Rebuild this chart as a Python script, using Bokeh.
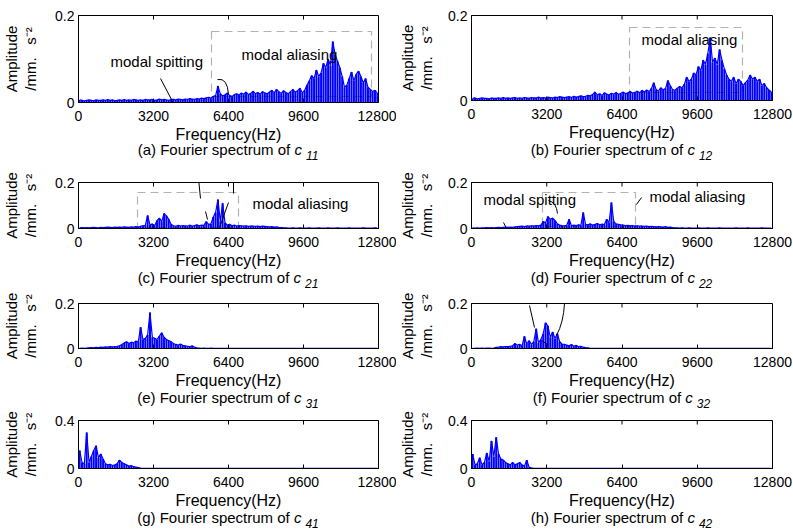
import numpy as np
from bokeh.plotting import figure
from bokeh.models import Range1d, FixedTicker, Label, BoxAnnotation, Arrow, Div
from bokeh.layouts import column, row
from bokeh.embed import file_html
from bokeh.resources import INLINE

# ---------------- data (100 Hz bins) ----------------
FREQ_MAX = 12800
BIN_HZ = 100
X_TICKS = [0, 3200, 6400, 9600, 12800]
X_TITLE = "Frequency(Hz)"
NBSP = "\u00a0"
Y_TITLE = "Amplitude\n/mm." + NBSP * 3 + "s\u207b\u00b2"
CAPTION = "Fourier spectrum of"
TEXT_SPLIT = "modal spitting"
TEXT_ALIAS = "modal aliasing"

amp_c11 = [.006, .005, .004, .005, .006, .005, .004, .006, .005, .005,
           .006, .005, .007, .005, .006, .004, .005, .006, .005, .007,
           .005, .006, .005, .007, .006, .005, .006, .005, .007, .006,
           .006, .007, .005, .006, .008, .006, .007, .006, .005, .007,
           .007, .006, .008, .007, .006, .008, .007, .009, .008, .007,
           .009, .008, .010, .009, .011, .012, .010, .014, .016, .038,
           .020, .015, .018, .022, .016, .014, .018, .020, .017, .022,
           .019, .024, .018, .021, .026, .020, .023, .019, .025, .022,
           .020, .024, .028, .022, .030, .025, .021, .027, .023, .020,
           .025, .030, .024, .027, .033, .022, .028, .040, .050, .062,
           .055, .075, .060, .068, .090, .080, .100, .085, .140, .110,
           .095, .080, .060, .035, .040, .055, .070, .050, .065, .072,
           .060, .045, .055, .035, .030, .025, .028, .022]
amp_c12 = [.005, .006, .004, .005, .006, .005, .005, .004, .006, .005,
           .005, .006, .005, .007, .005, .006, .005, .006, .007, .005,
           .006, .005, .007, .006, .005, .007, .006, .006, .008, .006,
           .007, .006, .008, .007, .006, .008, .007, .009, .008, .007,
           .008, .009, .007, .010, .008, .009, .011, .009, .010, .012,
           .011, .014, .020, .013, .016, .012, .018, .015, .013, .017,
           .015, .019, .014, .017, .020, .016, .018, .021, .017, .019,
           .022, .018, .024, .020, .025, .021, .028, .042, .026, .022,
           .030, .025, .028, .047, .035, .026, .024, .029, .033, .030,
           .038, .055, .045, .050, .065, .060, .080, .070, .095, .085,
           .110, .148, .090, .100, .085, .120, .095, .075, .060, .050,
           .045, .055, .040, .050, .045, .035, .042, .048, .060, .050,
           .055, .045, .050, .035, .040, .030, .025, .020]
amp_c21 = [.003, .004, .003, .004, .003, .004, .005, .004, .003, .005,
           .004, .005, .006, .005, .004, .006, .005, .006, .005, .007,
           .006, .005, .007, .006, .008, .006, .010, .012, .014, .057,
           .015, .020, .012, .035, .045, .030, .065, .055, .040, .018,
           .012, .010, .014, .011, .013, .012, .010, .015, .011, .013,
           .016, .012, .015, .014, .030, .018, .020, .050, .070, .126,
           .030, .110, .025, .014, .018, .012, .015, .011, .013, .012,
           .010, .012, .009, .011, .010, .009, .011, .008, .010, .009,
           .008, .007, .008, .006, .007, .005, .004, .003, .003, .002,
           .002, .003, .002, .002, .003, .002, .002, .002, .003, .002,
           .002, .002, .003, .002, .002, .002, .003, .002, .002, .002,
           .003, .002, .002, .002, .002, .003, .002, .002, .002, .002,
           .002, .003, .002, .002, .002, .002, .003, .002]
amp_c22 = [.003, .002, .003, .002, .003, .003, .004, .003, .004, .003,
           .004, .005, .004, .005, .006, .005, .006, .005, .007, .008,
           .009, .010, .008, .011, .010, .012, .011, .013, .012, .015,
           .030, .025, .052, .040, .045, .035, .020, .015, .013, .012,
           .014, .040, .012, .015, .013, .016, .014, .070, .018, .016,
           .020, .015, .018, .022, .016, .019, .017, .040, .025, .113,
           .030, .020, .018, .016, .015, .013, .014, .012, .013, .011,
           .012, .010, .011, .009, .010, .008, .009, .008, .007, .008,
           .007, .006, .008, .005, .006, .004, .003, .003, .002, .003,
           .002, .002, .003, .002, .002, .002, .003, .002, .002, .002,
           .003, .002, .002, .002, .002, .003, .002, .002, .002, .002,
           .002, .002, .003, .002, .002, .002, .002, .003, .002, .002,
           .002, .002, .002, .003, .002, .002, .002, .002]
amp_c31 = [.001, .002, .001, .002, .003, .004, .003, .005, .004, .006,
           .005, .007, .006, .008, .007, .009, .010, .012, .018, .025,
           .030, .022, .028, .025, .033, .030, .095, .040, .045, .060,
           .160, .050, .045, .040, .055, .070, .050, .040, .035, .030,
           .022, .018, .015, .020, .014, .012, .010, .008, .012, .006,
           .003, .002, .001, .002, .001, .001, .002, .001, .001, .001,
           .001, .001, .001, .001, .001, .001, .001, .001, .001, .001,
           .001, .001, .001, .001, .001, .001, .001, .001, .001, .001,
           .001, .001, .001, .001, .001, .001, .001, .001, .001, .001,
           .001, .001, .001, .001, .001, .001, .001, .001, .001, .001,
           .001, .001, .001, .001, .001, .001, .001, .001, .001, .001,
           .001, .001, .001, .001, .001, .001, .001, .001, .001, .001,
           .001, .001, .001, .001, .001, .001, .001, .001]
amp_c32 = [.001, .001, .002, .001, .002, .001, .002, .002, .001, .002,
           .005, .006, .008, .007, .009, .008, .010, .012, .022, .015,
           .018, .012, .054, .020, .035, .018, .030, .088, .025, .040,
           .066, .114, .100, .050, .073, .045, .066, .030, .020, .018,
           .015, .012, .018, .010, .014, .008, .010, .006, .004, .003,
           .001, .001, .001, .001, .001, .001, .001, .001, .001, .001,
           .001, .001, .001, .001, .001, .001, .001, .001, .001, .001,
           .001, .001, .001, .001, .001, .001, .001, .001, .001, .001,
           .001, .001, .001, .001, .001, .001, .001, .001, .001, .001,
           .001, .001, .001, .001, .001, .001, .001, .001, .001, .001,
           .001, .001, .001, .001, .001, .001, .001, .001, .001, .001,
           .001, .001, .001, .001, .001, .001, .001, .001, .001, .001,
           .001, .001, .001, .001, .001, .001, .001, .001]
amp_c41 = [.150, .050, .040, .300, .050, .100, .150, .190, .090, .120,
           .080, .040, .030, .035, .025, .030, .040, .070, .050, .040,
           .030, .020, .025, .015, .012, .008, .004, .002, .001, .001,
           .001, .001, .001, .001, .001, .001, .001, .001, .001, .001,
           .001, .001, .001, .001, .001, .001, .001, .001, .001, .001,
           .001, .001, .001, .001, .001, .001, .001, .001, .001, .001,
           .001, .001, .001, .001, .001, .001, .001, .001, .001, .001,
           .001, .001, .001, .001, .001, .001, .001, .001, .001, .001,
           .001, .001, .001, .001, .001, .001, .001, .001, .001, .001,
           .001, .001, .001, .001, .001, .001, .001, .001, .001, .001,
           .001, .001, .001, .001, .001, .001, .001, .001, .001, .001,
           .001, .001, .001, .001, .001, .001, .001, .001, .001, .001,
           .001, .001, .001, .001, .001, .001, .001, .001]
amp_c42 = [.120, .030, .040, .090, .030, .050, .130, .060, .230, .100,
           .260, .120, .080, .070, .050, .040, .030, .050, .030, .040,
           .050, .030, .020, .070, .010, .005, .002, .001, .001, .001,
           .001, .001, .001, .001, .001, .001, .001, .001, .001, .001,
           .001, .001, .001, .001, .001, .001, .001, .001, .001, .001,
           .001, .001, .001, .001, .001, .001, .001, .001, .001, .001,
           .001, .001, .001, .001, .001, .001, .001, .001, .001, .001,
           .001, .001, .001, .001, .001, .001, .001, .001, .001, .001,
           .001, .001, .001, .001, .001, .001, .001, .001, .001, .001,
           .001, .001, .001, .001, .001, .001, .001, .001, .001, .001,
           .001, .001, .001, .001, .001, .001, .001, .001, .001, .001,
           .001, .001, .001, .001, .001, .001, .001, .001, .001, .001,
           .001, .001, .001, .001, .001, .001, .001, .001]

freq = np.arange(len(amp_c11)) * BIN_HZ + BIN_HZ / 2

# ---------------- styling / layout ----------------
BLUE = "#0000ff"
FONT = "Liberation Sans"
COLS = [dict(bl=78, fw=300, br=18, ystand=13), dict(bl=75, fw=301, br=20, ystand=10)]
BB = 43  # bottom border of every figure (tick labels + x title)

PANELS = [
    dict(tag="a", sub="11", amp=amp_c11, ymax=0.2, col=0, bt=13, fh=87, cap_h=25, ref=(78, 13, 378, 100)),
    dict(tag="b", sub="12", amp=amp_c12, ymax=0.2, col=1, bt=15, fh=85, cap_h=25, ref=(471, 15, 772, 100)),
    dict(tag="c", sub="21", amp=amp_c21, ymax=0.2, col=0, bt=14, fh=46, cap_h=19, ref=(78, 182, 378, 228)),
    dict(tag="d", sub="22", amp=amp_c22, ymax=0.2, col=1, bt=14, fh=46, cap_h=19, ref=(471, 182, 772, 228)),
    dict(tag="e", sub="31", amp=amp_c31, ymax=0.2, col=0, bt=13, fh=45, cap_h=19, ref=(78, 303, 378, 348)),
    dict(tag="f", sub="32", amp=amp_c32, ymax=0.2, col=1, bt=13, fh=45, cap_h=19, ref=(471, 303, 772, 348)),
    dict(tag="g", sub="41", amp=amp_c41, ymax=0.4, col=0, bt=10, fh=48, cap_h=19, ref=(78, 420, 378, 468)),
    dict(tag="h", sub="42", amp=amp_c42, ymax=0.4, col=1, bt=10, fh=48, cap_h=19, ref=(471, 420, 772, 468)),
]

# annotation positions, given in reference-picture pixels
BOXES = {"a": (211, 29, 371, 94), "b": (629, 27, 742, 92),
         "c": (137, 192, 238, 227), "d": (542, 192, 635, 226)}
TEXTS = {"a": [(TEXT_SPLIT, 110, 59), (TEXT_ALIAS, 241, 52)],
         "b": [(TEXT_ALIAS, 641, 39)],
         "c": [(TEXT_ALIAS, 252, 203)],
         "d": [(TEXT_SPLIT, 483, 199), (TEXT_ALIAS, 649, 196)]}
LINES = {"a": [(160, 76, 195, 143)],
         "c": [(197, 168, 200, 198), (205, 211, 207, 219), (233, 182, 233, 193), (228, 202, 219, 227)],
         "d": [(503, 222, 527, 270), (636, 204, 641, 197)],
         "f": [(529, 305, 534, 327), (541, 340, 547, 344)]}
CURVES = {"a": [(217, 77, 227, 75, 228, 92)],
          "d": [(548, 200, 556, 202, 557, 213)],
          "f": [(564, 303, 563, 322, 556, 335)]}


def build(pn):
    L, T, R, B = pn["ref"]
    ymax = pn["ymax"]

    def X(px):
        return (px - L) / (R - L) * FREQ_MAX

    def Y(py):
        return (B - py) / (B - T) * ymax

    c = COLS[pn["col"]]
    p = figure(frame_width=c["fw"], frame_height=pn["fh"],
               x_range=Range1d(0, FREQ_MAX), y_range=Range1d(0, ymax),
               output_backend="svg", toolbar_location=None,
               min_border_left=c["bl"], min_border_right=c["br"],
               min_border_top=pn["bt"], min_border_bottom=BB)
    p.background_fill_color = "white"
    p.border_fill_color = "white"
    p.outline_line_color = "black"
    p.outline_line_width = 1
    p.xgrid.visible = False
    p.ygrid.visible = False

    # spectrum
    p.vbar(x=freq, top=pn["amp"], bottom=0, width=BIN_HZ * 0.85,
           fill_color=BLUE, line_color=None)
    p.line(freq, pn["amp"], line_color=BLUE, line_width=1.2)

    # inner ticks on the top edge (MATLAB box)
    tick_len = ymax * 4 / pn["fh"]
    p.segment(x0=X_TICKS, x1=X_TICKS, y0=[ymax] * len(X_TICKS),
              y1=[ymax - tick_len] * len(X_TICKS), line_color="black", line_width=1)

    # axes
    xa = p.xaxis[0]
    xa.ticker = FixedTicker(ticks=X_TICKS)
    xa.major_tick_in = 4
    xa.major_tick_out = 0
    xa.minor_tick_line_color = None
    xa.axis_line_color = "black"
    xa.major_label_text_font = FONT
    xa.major_label_text_font_size = "14px"
    xa.major_label_text_color = "black"
    xa.major_label_standoff = 8
    xa.axis_label = X_TITLE
    xa.axis_label_text_font = FONT
    xa.axis_label_text_font_size = "16px"
    xa.axis_label_text_font_style = "normal"
    xa.axis_label_text_color = "black"
    xa.axis_label_standoff = 2

    ya = p.yaxis[0]
    ya.ticker = FixedTicker(ticks=[0, ymax])
    ya.major_label_overrides = {0: "0", ymax: str(ymax)}
    ya.major_tick_in = 4
    ya.major_tick_out = 0
    ya.minor_tick_line_color = None
    ya.axis_line_color = "black"
    ya.major_label_text_font = FONT
    ya.major_label_text_font_size = "14px"
    ya.major_label_text_color = "black"
    ya.major_label_standoff = 4
    ya.axis_label = Y_TITLE
    ya.axis_label_text_font = FONT
    ya.axis_label_text_font_size = "15px"
    ya.axis_label_text_font_style = "normal"
    ya.axis_label_text_color = "black"
    ya.axis_label_text_line_height = 1.1
    ya.axis_label_standoff = c["ystand"]

    tag = pn["tag"]
    if tag in BOXES:
        l, t, r, b = BOXES[tag]
        p.add_layout(BoxAnnotation(left=X(l), right=X(r), top=Y(t), bottom=Y(b),
                                   fill_alpha=0, fill_color=None, line_color="black",
                                   line_dash="8 5", line_width=1.2))
    for txt, tx, ty in TEXTS.get(tag, []):
        p.add_layout(Label(x=X(tx), y=Y(ty), text=txt, text_align="left", text_baseline="middle",
                           text_font=FONT, text_font_size="15px", text_color="black"))
    for x0, y0, x1, y1 in LINES.get(tag, []):
        p.add_layout(Arrow(end=None, x_start=X(x0), y_start=Y(y0), x_end=X(x1), y_end=Y(y1),
                           line_color="black", line_width=1))
    for x0, y0, cx, cyy, x1, y1 in CURVES.get(tag, []):
        p.quadratic(x0=[X(x0)], y0=[Y(y0)], cx=[X(cx)], cy=[Y(cyy)], x1=[X(x1)], y1=[Y(y1)],
                    line_color="black", line_width=1)
    return p


def caption(pn):
    c = COLS[pn["col"]]
    html = (f'<div style="margin-left:{c["bl"]}px;width:{c["fw"]}px;text-align:center;'
            f'font-family:\'{FONT}\';font-size:15px;line-height:14px;color:black;white-space:nowrap;">'
            f'({pn["tag"]}) {CAPTION} <i>c</i>'
            f'<span style="font-size:12px;font-style:italic;position:relative;top:5px;margin-left:4px;">'
            f'{pn["sub"]}</span></div>')
    return Div(text=html, width=c["bl"] + c["fw"] + c["br"], height=pn["cap_h"],
               margin=(0, 0, 0, 0))


figs = [build(pn) for pn in PANELS]
caps = [caption(pn) for pn in PANELS]
rows = []
for i in range(0, 8, 2):
    rows.append(row(figs[i], figs[i + 1]))
    rows.append(row(caps[i], caps[i + 1]))
layout = column(*rows)

open("out.html", "w").write(file_html(layout, INLINE))
